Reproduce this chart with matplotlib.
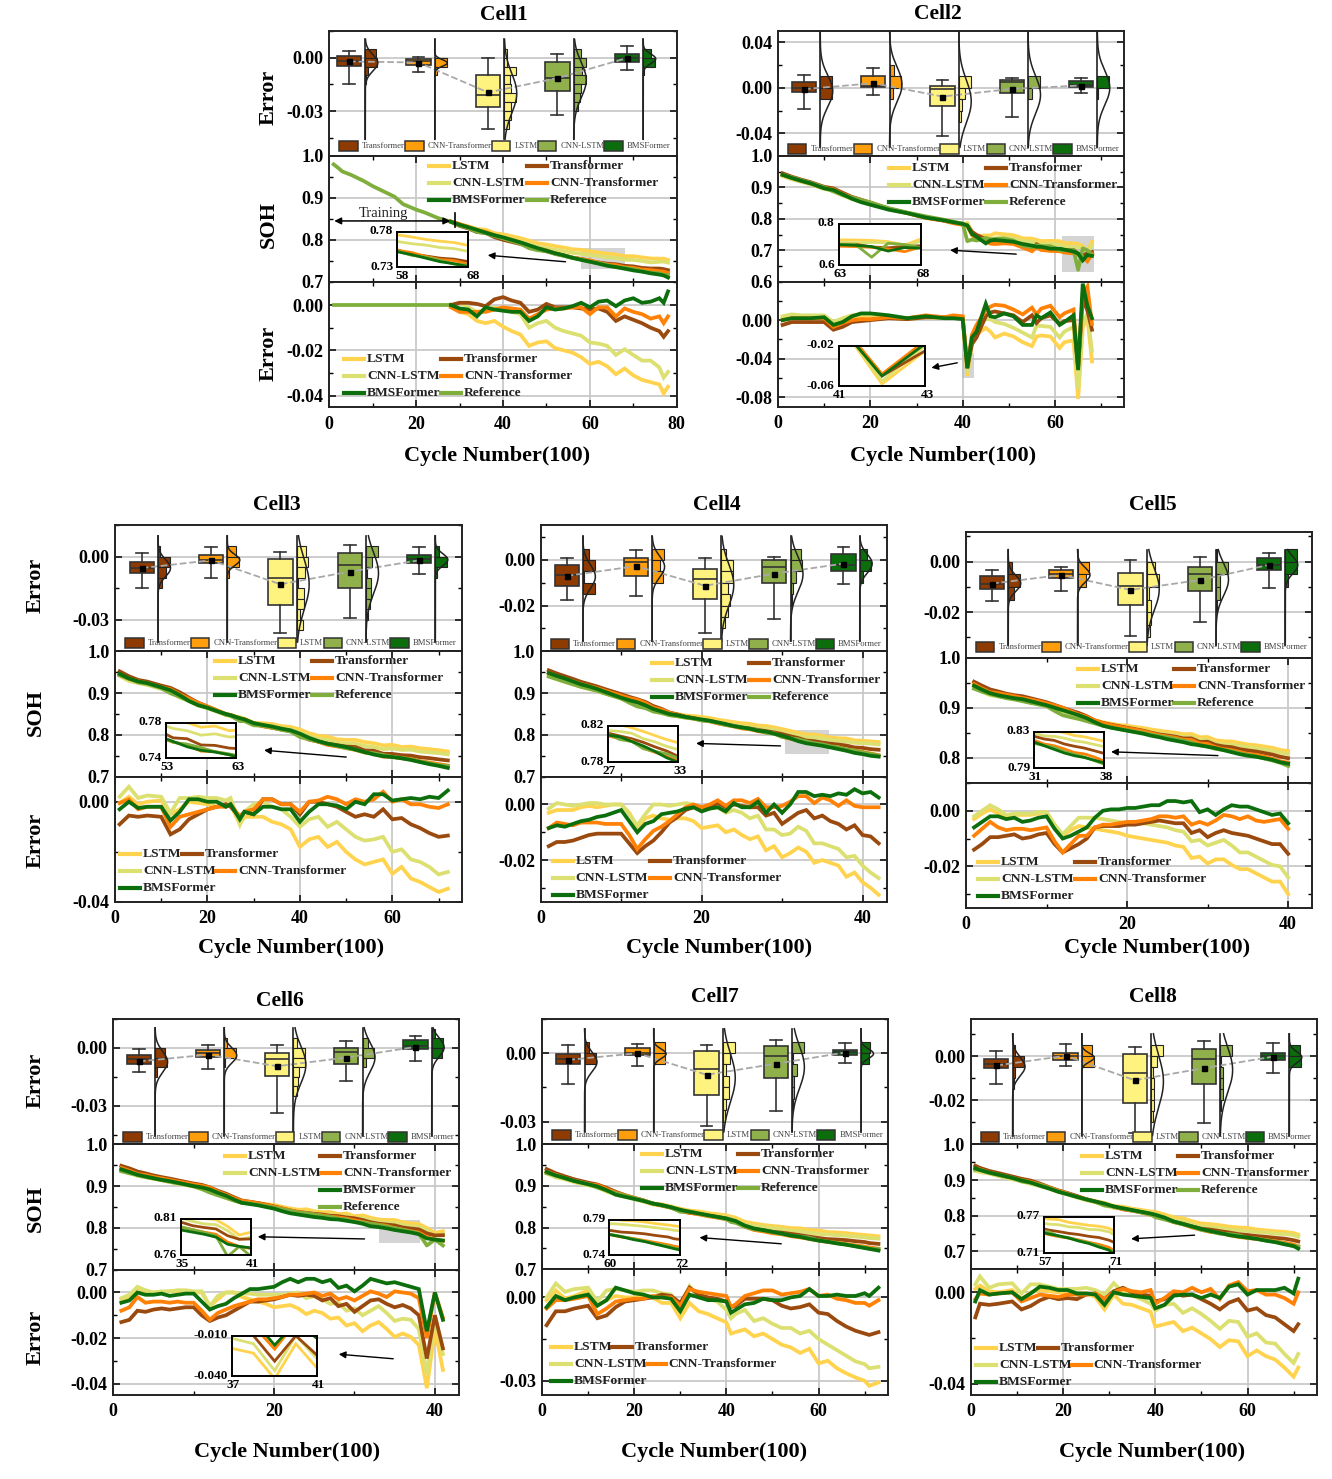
import numpy as np
import matplotlib
matplotlib.use('Agg')
import matplotlib.pyplot as plt
from matplotlib.lines import Line2D
from matplotlib.patches import Rectangle
from matplotlib.ticker import AutoMinorLocator, FormatStrFormatter

W, H = 1332, 1479
plt.rcParams['font.family'] = ['Liberation Serif', 'DejaVu Serif']
plt.rcParams['font.weight'] = 'bold'

# errors, box stats and histograms are in units of 0.001
BOX_LABELS = ['Transformer', 'CNN-Transformer', 'LSTM', 'CNN-LSTM', 'BMSFormer']
KEY_ROW = ['LSTM', 'Transformer', 'CNN-LSTM', 'CNN-Transformer', 'BMSFormer', 'Reference']

# Cell1
C1_X = [1, 2, 3, 5, 8, 10, 12, 15, 17, 20, 22, 25, 28, 30, 32, 34, 36, 38, 40, 42, 44, 46, 48, 50, 52, 54, 56, 58, 60,
        62, 64, 66, 68, 70, 72, 74, 76, 77, 78]
C1_SOH = [.98, .972, .963, .955, .94, .928, .918, .903, .885, .872, .865, .852,
          .843, .836, .83, .824, .817, .811, .806, .80, .794, .787, .78, .774, .768, .763, .757,
          .752, .748, .743, .738, .735, .731, .727, .724, .72, .717, .715, .71]
C1_LSTM = [0, -3, -4, -7, -8, -7, -9.5, -11.5, -13, -18, -16.5, -16, -19, -20, -21, -23, -26, -25, -27, -30.5, -28, -31, -33, -34, -35, -39, -36]
C1_CNNLSTM = [0, 1, -1, -3, -2, -1, -2, -3, -4, -10, -8, -7, -10, -11.5, -12.5, -13.5, -16.5, -17, -18, -22, -19.5, -22, -24.5, -24.5, -27.5, -32, -29.5]
C1_TRANS = [0, 1, 1, .5, -.5, 2.5, 3.5, 2, 1, -3, -2, .5, -1, -1, -1, -1.5, -2, -1.5, -3, -7, -5, -6.5, -8, -10, -11.5, -14, -11.5]
C1_CNNTRANS = [-1, -3, -3, -3, -3, -2, -1, -1.5, -2, -6, -4, -2, -1.5, -1.5, -1, -1, -4, -1, -1, -5, -1.5, -3, -4, -6, -5, -8, -5]
C1_BMS = [0, -1.5, -2, -5, -1, -2, -2.5, -3, -3, -7, -5, -1, -2, -1.5, -.5, 1, -1, 1.5, 2, -.5, 2, 3, 1, 1.5, 3, 1, 6]
C1_BOX = [[-14.7, -4.6, -1.8, 1, 3.9, -2.1], [-8.2, -4, -2, -.8, .2, -2.7], [-40, -28, -20.8, -9.8, 0, -19.5],
          [-32, -18.8, -11.6, -2.5, 2.2, -11.5], [-7, -2.4, 0, 2.1, 6.5, -.2]]
C1_HIST_TOP = [5, 0, 5, 5, 5]
C1_HIST = [[9, 10, 2, 1], [10, 1.5], [2, 2, 10, 5, 5.5, 10, 6, 6, 4], [6, 10, 7, 10, 6, 5, 4], [7, 10, 1]]

# Cell2
C2_X = [1, 3, 5, 7, 10, 12, 14, 16, 18, 20, 24, 28, 32, 36, 38, 40, 41, 42, 43, 45, 46, 47, 49, 51, 53,
        55, 56, 57, 59, 61, 62, 64, 65, 66, 67, 68]
C2_SOH = [.94, .93, .921, .913, .897, .892, .878, .864, .853, .845, .829, .818, .804, .795, .789, .784, .779, .752, .743, .722,
          .731, .733, .73, .727, .72, .715, .711, .711, .705, .705, .702, .696, .69, .668, .685, .682]
C2_LSTM = [2, 4, 3, 3, 3, -3, 0, 3, 4, 5, 3, 1, 3, 2, 3, 3, -58, -25, -15, -8, -12, -18, -14, -17, -23, -27, -17, -16, -17, -29, -23, -21, -82, -8, 3, -43]
C2_CNNLSTM = [4, 6, 5, 5, 5, -2, 2, 5, 6, 6, 3, 2, 4, 2, 3, 3, -55, -20, -8, 1, 1, -2, -4, -8, -13, -18, -6, -6, -7, -18, -12, -7, -72, -3, 7, -32]
C2_TRANS = [-5, -2, -2, -2, -2, -10, -7, -2, -1, 0, 2, 1, 3, 3, 3, 2, -50, -25, -18, 4, 8, 9, 7, 5, -2, 5, -3, 2, 5, -4, -1, 0, -50, 22, 10, -10]
C2_CNNTRANS = [0, 2, 2, 2, 2, -7, -3, 0, 1, 1, 3, 2, 5, 3, 5, 4, -48, -15, -5, 10, 14, 16, 15, 11, 6, 13, 6, 12, 15, 3, 7, 11, -48, 28, 35, -4]
C2_BMS = [0, 2, 2, 2, 3, -5, -2, 4, 7, 7, 5, 2, 4, 2, 2, 1, -50, -18, -12, 17, 4, 3, 7, 4, -5, -5, 5, 2, 8, -5, -2, 5, -52, 38, 15, 2]
C2_BOX = [[-19, -3.5, -.5, 4.7, 11, -1.2], [-6.5, 1, 1.5, 10, 17, 4], [-42, -16, -1.5, 2, 6.5, -7.7],
          [-26, -5, 5.5, 7, 8.5, -1], [-4.5, 1, 2.5, 6, 8.5, 2]]
C2_HIST_TOP = [10, 20, 10, 10, 10]
C2_HIST = [[10, 10], [4, 10, 3], [10, 5, 3, 2], [10, 3], [10, 1]]

# Cell3
C3_X = [1, 3, 5, 7, 10, 12, 14, 16, 18, 20, 22, 24, 25, 27, 28, 30, 32, 34, 36, 38, 40, 42, 44, 46, 48,
        50, 52, 54, 56, 58, 60, 62, 64, 66, 68, 70, 72]
C3_SOH = [.946, .935, .928, .924, .914, .907, .895, .881, .871, .865, .857, .85, .847, .84, .837, .828, .824, .82, .815, .811,
          .803, .793, .785, .779, .775, .771, .765, .759, .753, .749, .747, .744, .74, .735, .73, .726, .721]
C3_LSTM = [-.5, 2, -1, 0, .5, -5, -3, 0, -.5, -1, -2, -1, -1, -9, -6, -6, -6, -8, -9, -11, -18, -15, -14, -18, -16,
           -20, -23, -25, -24, -23, -28.7, -26, -30.6, -32, -34, -36, -34.7]
C3_CNNLSTM = [2, 6, 1.5, 2.5, 2, -4.5, 1.5, 1.5, 2, 1.5, 1.5, .5, 1.5, -9, -4, -1, 0, -2, -3, -6, -10, -7, -6, -10, -8,
              -11, -14, -15.5, -15, -14, -20, -19, -23, -24, -26, -29, -28]
C3_TRANS = [-9, -5.5, -6, -5.5, -6, -13, -11, -7, -5, -3, -2, -1, -2, -6, -4, -5, 1, 1, -1, -1, -5, 0, 0, -1, -2,
            -4, -6, -5, -6, -3, -7, -6.5, -9, -10.5, -12.5, -14, -13.5]
C3_CNNTRANS = [-.5, 1, -3, -2, -2, -10, -6, -5, -4, -3, -2, -2, -1, -6, -4, -3, 1, 1, -1, -1, -4, 0, .5, 2, 1,
               -1, 1, 0, 1, 4, 0, 1, -1, -1, -2, -2.5, -1]
C3_BMS = [-3, 0, -2.5, -2, -2, -7.5, -4, 1, 1, 0, 0, -2, -1, -7, -4, -5, -2, -2, -3, -3, -8, -4, -1, -1, -1.5,
          -3, 0, -1, 3, 3, .5, 1, 1.5, 1, 2, 1.5, 4.5]
C3_BOX = [[-14.7, -7.7, -5.3, -2.3, 2, -5.3], [-10, -3, -1.5, 1, 4.5, -1.6], [-36, -23, -10, -1, 2.5, -13],
          [-29, -14.7, -3.8, 1.8, 5.5, -7], [-8, -2.8, -1, 1, 4.5, -1.6]]
C3_HIST_TOP = [5, 5, 5, 5, 5]
C3_HIST = [[2, 10, 7, 3], [7, 10, 1], [8, 10, 7, 1, 6, 6, 3, 5], [10, 5, 1, 4, 4, 3, 2], [3, 10, 1]]

# Cell4
C4_X = list(range(1, 43))
C4_SOH = [.948, .941, .935, .928, .921, .916, .91, .903, .896, .889, .883, .878, .871, .862, .856, .85, .847, .843, .84, .837,
          .834, .83, .826, .821, .818, .815, .81, .808, .803, .798, .792, .785, .78, .777, .774, .77, .766, .762, .757, .754, .75, .748]
C4_LSTM = [-3, -2, -2, -2, -1, -.5, -1, -.5, 0, 0, -3, -8, -5, -4, -5, -5.5, -5, -5, -6, -8.5,
           -8, -7.5, -10, -9, -11, -12.5, -11.5, -16.5, -15, -19, -17.5, -15.5, -17, -21, -20, -21, -22, -26, -24.5, -28, -30, -32.5]
C4_CNNLSTM = [-1.5, .5, 0, -.5, 0, .5, .5, 0, 0, 0, -3.5, -7.5, -3.5, 0, 0, -.5, 0, .5, 0, -2,
              -1.5, -1, -3, -2, -3, -5, -4, -9, -9, -11, -10.5, -8, -9.5, -14, -14, -15, -16, -19, -18.5, -22, -24.5, -26.5]
C4_TRANS = [-15, -13.5, -13.5, -13, -12, -11, -10.5, -10.5, -10.5, -10.5, -14, -17.5, -15, -13, -10, -6.5, -4.5, -2, -1, -1,
            -1, .5, -1, 0, -.5, -1, -1, -4, -3, -7, -5, -3, -2, -5, -4, -6, -7, -9, -7.5, -11, -11.5, -14]
C4_CNNTRANS = [-8.5, -6.5, -7, -7.5, -6.5, -6.5, -6.5, -7, -7, -7, -11, -16, -12.5, -9.5, -8, -6, -3.5, -1, 0, -1,
               0, 1.5, -.5, 1.5, 1.5, .5, 2, -1, -1, -.5, 1, 3, 3, .5, 2.5, 1.5, -.5, 1.5, -.5, -1, -1, -1]
C4_BMS = [-8.5, -7.5, -8, -7, -6, -5.5, -4.5, -4, -3, -2, -6, -10, -7, -6, -3.5, -3, -2.5, -1.5, -1, -2.5,
          -1.5, -1, -2.5, .5, -1, -1, 1, -3, 0, -3, 0, 4.5, 4.5, 3, 3.5, 3, 4, 3.5, 5.5, 4, 4.5, 2.5]
C4_BOX = [[-17.7, -11.6, -6.5, -2, 1, -7], [-16, -7, -1, .7, 4.5, -2.7], [-32, -17.3, -8.5, -4, .7, -11.3],
          [-26, -10, -3, 0, 1.3, -6], [-10.5, -4.7, -2, 2.5, 5.5, -1.6]]
C4_HIST_TOP = [5, 5, 5, 5, 5]
C4_HIST = [[5, 10, .5, 10], [10, 7, 9], [4, 10, 10, 6, 7, 6, 3], [9, 10, 5, 2, 1], [6, 10, 3]]

# Cell5
C5_X = list(range(1, 41))
C5_SOH = [.944, .936, .929, .925, .922, .919, .917, .913, .909, .905, .9, .895, .89, .885, .879, .871, .864, .86, .857, .854,
          .851, .848, .844, .841, .837, .834, .831, .827, .825, .822, .819, .815, .811, .807, .804, .802, .799, .796, .791, .788]
C5_LSTM = [-3, -1, .5, -1, -2, -1.5, -1.5, -1.5, -1, -.5, -5, -9, -7, -5.5, -6, -6.5, -7, -7.5, -8, -9,
           -9.5, -10, -10.5, -11, -11.5, -12.5, -13, -17, -16.5, -19, -17.5, -17.5, -19.5, -21, -21, -22.5, -24, -25.5, -25.5, -30]
C5_CNNLSTM = [-2, 0, 2, .5, -1.5, -1, -1, -1, -.5, -.5, -5, -8.5, -5.5, -2.5, -2.5, -2.5, -3, -3.5, -4, -4.5,
              -4.5, -4.5, -5, -5.5, -6, -7, -7.5, -11, -10.5, -12.5, -11.5, -10.5, -12.5, -15, -15, -16.5, -18, -19.5, -20, -24]
C5_TRANS = [-14, -12, -9.5, -9.5, -9, -8.5, -10, -9.5, -8.5, -8, -12, -15, -13.5, -12, -10, -6, -5.5, -5.5, -5.5, -5,
            -5, -4.5, -4, -3.5, -4, -4.5, -4.5, -8, -7, -9.5, -8, -7, -8, -8.5, -9, -10, -11, -12, -12, -15.5]
C5_CNNTRANS = [-9, -6.5, -4, -6, -7, -6.5, -6.5, -7, -6.5, -6, -11, -15, -12, -9, -9, -6, -5, -5, -4.5, -4,
               -4, -3.5, -3, -2, -2, -2.5, -2, -5, -4, -5, -3.5, -1.5, -2, -3, -2, -3.5, -4, -3.5, -3, -6.5]
C5_BMS = [-6, -4, -2, -2, -3, -2.5, -4, -3.5, -2.5, -2, -6.5, -10, -9, -7.5, -6, -2.5, 0, .5, .5, 1,
          1, 1.5, 2, 2, 3.5, 3.5, 3, 3.5, -.5, .5, -1.5, .5, 2, 1.5, 1.5, .5, -.5, -1.5, -1, -4.5]
C5_BOX = [[-15.7, -10.7, -9, -5.5, -3.5, -8.7], [-11.7, -6.5, -5, -3.3, -2, -5.3], [-29.5, -17.3, -9.5, -4.5, .7, -11.2],
          [-24, -11.5, -5, -2.3, 1.8, -7.3], [-10.3, -3.4, -1.5, 1.4, 3.2, -1.3]]
C5_HIST_TOP = [0, 0, 0, 5, 5]
C5_HIST = [[3, 10, 5], [10, 7], [7, 10, 2, 4, 4, 3], [1, 10, 3, 3, 1], [10, 10, 2]]

# Cell6
C6_X = list(range(1, 42))
C6_SOH = [.94, .934, .927, .923, .919, .915, .912, .908, .904, .9, .897, .892, .884, .877, .868, .86, .857, .854, .85, .846,
          .84, .835, .832, .829, .826, .824, .821, .82, .817, .814, .81, .804, .802, .799, .795, .792, .789, .785, .775, .772, .77]
C6_LSTM = [-3, -2, 2, .5, 0, 0, .5, .5, .5, 0, 0, -6, -3, 0, 0, -2, -3, -4, -5, -6.5,
           -6, -5.5, -7, -9.5, -8, -9, -11.5, -11, -14.5, -13.5, -17, -14.5, -13, -16, -19.5, -18, -19.5, -23, -42, -16, -34]
C6_CNNLSTM = [-2.5, -1, 2.5, 1, 0, .5, .5, 1, 1, .5, .5, -6, -1.5, 0, 0, -.5, -.5, -1, -1, -1,
              -1, -.5, 0, -2.5, -1.5, -3, -5, -4.5, -8, -7, -10, -8, -6, -9, -12.5, -11.5, -12, -16, -36, -10, -27]
C6_TRANS = [-13, -12, -8, -8.5, -7.5, -7, -7.5, -7, -6.5, -6.5, -10, -12.5, -11, -10, -8, -6, -4, -4, -3.5, -3,
            -2, -1, -1.5, -1, -1.5, -3.5, -2.5, -6, -5, -8.5, -6, -3.5, -3, -5, -6.5, -5.5, -7, -10, -29, -10, -24.5]
C6_CNNTRANS = [-8, -6.5, -2, -4.5, -4, -4, -4.5, -4, -4.5, -4.5, -8, -12, -9, -7.5, -6, -5, -4, -3, -3, -2.5,
               -2, -1, -1, -.5, 0, -1.5, -.5, -3, -2, -3.5, -1.5, .5, -.5, -2, .5, 0, -.5, -2.5, -20, 0, -11]
C6_BMS = [-4.5, -3.5, 0, -1, -1, -.5, -1.5, -1, -.5, -.5, -4, -7.5, -6, -5, -2.5, -.5, 1.5, 1.5, 2, 2.5,
          4.5, 6, 4.5, 6, 6, 4.5, 5.5, 2, 3, .5, 3, 6, 5, 4, 4.5, 3.5, 2.5, 1.5, -17, 0, -12]
C6_BOX = [[-12.7, -8.5, -6, -3.8, -.5, -7], [-11, -4.5, -2.5, -1, 1.5, -3.5], [-33.7, -14.5, -5.5, -2.7, 1.3, -9.5],
          [-17, -8.3, -2, -.2, 3.5, -5], [-7, -.8, 1, 4, 6, .5]]
C6_HIST_TOP = [0, 5, 5, 5, 10]
C6_HIST = [[8, 10, 2], [2, 10, 1], [3, 10, 10, 5, 4, 3], [5, 10, 3], [3, 10, 9]]

# Cell7
C7_X = [1, 3, 5, 7, 10, 12, 14, 16, 18, 20, 22, 24, 26, 28, 30, 32, 34, 36, 38, 40, 41, 42, 44, 46, 48,
        50, 52, 54, 56, 58, 60, 62, 64, 66, 68, 70, 71, 73]
C7_SOH = [.934, .925, .919, .912, .904, .899, .89, .879, .874, .869, .864, .858, .854, .849, .843, .838, .834, .83, .826, .822,
          .819, .816, .805, .798, .794, .79, .786, .781, .778, .773, .769, .766, .762, .759, .755, .751, .749, .745]
C7_LSTM = [-1, 2.5, -.5, .5, 2.5, -3, -1, .5, 0, 0, .5, 0, -2, -2, -7.5, -2, -5, -6, -7.5, -9,
           -13, -12.5, -11.5, -14, -13, -15, -17, -18, -20, -18.5, -23.7, -22.8, -25.5, -27.3, -28.8, -30, -31.8, -30.6]
C7_CNNLSTM = [0, 5, 2, 3, 3.5, -1.5, 2.5, 3, 2.5, 2, 2.5, 2.5, 1.5, 1, -3, 4, 0, -.5, -1.5, -4.5,
              -7.5, -6, -4.5, -8.5, -7.5, -9.5, -11, -11, -13, -12, -15, -17, -19, -21, -23, -24, -25.5, -25]
C7_TRANS = [-10, -5, -5, -4, -3, -7.5, -6.5, -3.5, -1.5, -1, -.5, 0, 1, .5, -2, 3.5, 1, 0, -.5, -1.5,
            -3.5, -3, -.5, -.5, -.5, -1, -3, -4, -3.5, -2.5, -5.5, -6, -8.5, -10.5, -12, -13, -13.5, -12.5]
C7_CNNTRANS = [-4, -1, -1, -.5, .5, -6, -4, -1.5, -1, -.5, -.5, .5, 0, 0, -3, 3, 2, 1.5, 1, .5,
               -3.5, -2.5, .5, 1.5, 2.5, 2.5, 1, 1.5, 2, 3, .5, 1, -.5, -1, -2, -2, -3, -1]
C7_BMS = [-3.5, .5, -1, 0, 1, -3, -1, 3.5, 2.5, 1.5, 1, 0, 0, -.5, -5, 1, 0, -1, -1, -1.5,
          -5.5, -4.5, -2.5, -2, -.5, -1, -1, 0, .5, 3, .5, .5, 1, .5, .5, 1.5, .5, 3.5]
C7_BOX = [[-13.5, -5, -2.8, -.3, 3.5, -3], [-5.7, -1, 0, 2, 4, -.1], [-32, -18.5, -7.2, .8, 3.6, -9.5],
          [-25.5, -11, -1.3, 3.2, 5.8, -4.7], [-4.5, -1, .3, 1.5, 4.2, .2]]
C7_HIST_TOP = [5, 5, 5, 5, 5]
C7_HIST = [[4, 10], [10, 10], [10, 6, 3, 5, 5, 3, 2], [10, 1, 4, 2, 2, 1], [8, 7]]

# Cell8
C8_X = [1, 2, 4, 6, 9, 11, 13, 15, 17, 19, 21, 23, 25, 27, 29, 31, 33, 35, 37, 39, 40, 42, 44, 46, 48,
        50, 52, 54, 56, 58, 60, 62, 64, 66, 68, 70, 71]
C8_SOH = [.933, .928, .921, .915, .906, .899, .893, .884, .876, .867, .86, .853, .846, .84, .834, .826, .821, .816, .811, .806,
          .803, .795, .784, .777, .77, .763, .757, .752, .746, .742, .739, .735, .73, .726, .72, .715, .708]
C8_LSTM = [1.5, 3, .5, 0, 1, -3, 0, 1, .5, 0, 0, -.5, -.5, -2, -7.5, -1, -5, -5.5, -7, -8.5,
           -15, -14, -13, -17, -15.5, -18, -20.5, -24, -21, -21.5, -28, -25.5, -28, -29.5, -33, -37, -33]
C8_CNNLSTM = [3.5, 7, 2, 3.5, 4, -.5, 3.5, 3.5, 2.5, 1.5, 1.5, 1.5, 2, 1, -1, 4, 0, -1.5, -3, -5,
              -8, -5.5, -5, -9, -7, -9.5, -12.5, -16, -12.5, -13, -19.5, -18, -22, -22.5, -27, -31, -27]
C8_TRANS = [-11, -5, -5.5, -5, -4, -7.5, -6, -3.5, -2, -3, -2.5, -3, -1, -.5, -3, .5, 2, 0, -1, -1.5,
            -4, -3, -.5, -1.5, -1, -3, -5, -7.5, -4.5, -3, -8, -7, -10, -11, -14, -17, -14]
C8_CNNTRANS = [-3, -.5, -1, -.5, 0, -4, -2.5, -1, -1.5, -2, -1, -1, -1, -.5, -3, 0, 1.5, .5, 0, 1,
               -5, -2.5, .5, 0, 2, 0, 1.5, -3, 3, 4.5, .5, 1, -1, -1, -2.5, -5, 0]
C8_BMS = [-4, 1, -1, -.5, 0, -3, -.5, 2.5, 2, 1, 1, -.5, -.5, -1, -5.5, 0, -1, -1.5, -2, -2.5,
          -7, -5.5, -1.5, -1, -1, -2.5, -1, -2.5, 2.5, 3.5, -1, 1, 1, 1, 2, -.5, 6]
C8_BOX = [[-12.7, -5.6, -3.5, -1.5, 2.3, -4.3], [-4.7, -1.8, 0, 1.5, 5.5, .1], [-35, -21.3, -7.5, .7, 4, -11],
          [-30.3, -12.8, -1.2, 3.2, 7, -5.5], [-7.5, -1.8, -.2, 1.4, 6, -.3]]
C8_HIST_TOP = [5, 5, 5, 5, 5]
C8_HIST = [[2, 10, 2, 1], [9, 10], [10, 5, 2, 3, 3, 3, 2], [10, 1, 2, 2, 2, 1], [9, 10]]

# styles
BOX_COLORS = ['#8E3B02', '#FF9E0D', '#FFF37F', '#8FB04A', '#0B6D0B']
LINE_COLORS = {'LSTM': '#FFD34E', 'CNN-LSTM': '#DCE071', 'Transformer': '#9A4A0E', 'CNN-Transformer': '#FF8106',
               'BMSFormer': '#0C6E0C', 'Reference': '#7FAE3C'}
GRID = '#c9c9c9'


def px(x, y):
    return x / W, 1 - y / H


def make_axes(x0, y0, x1, y1, z=1):
    a, b = px(x0, y1)
    return plt.gcf().add_axes([a, b, (x1 - x0) / W, (y1 - y0) / H], zorder=z)


def style_axes(ax, ylim, yticks, fmt):
    ax.set_ylim(*ylim)
    ax.set_yticks(yticks)
    ax.yaxis.set_major_formatter(FormatStrFormatter(fmt))
    ax.yaxis.set_minor_locator(AutoMinorLocator(2))
    ax.tick_params(which='major', direction='in', length=5, width=1.1, top=True, right=True, labelsize=13, pad=4)
    ax.tick_params(which='minor', direction='in', length=3, width=1, top=True, right=True)
    ax.grid(axis='y', which='major', color=GRID, lw=1.3)
    ax.set_axisbelow(True)
    for s in ax.spines.values():
        s.set_linewidth(1.4)
        s.set_color('#222222')


def draw_box_panel(ax, cell, series):
    lay = cell['layout']
    style_axes(ax, lay['box_ylim'], lay['box_ticks'], '%.2f')
    ax.set_xlim(0, 5)
    ax.set_xticks([])
    pos = [lay['box_x0'] + i for i in range(5)]
    stats = [dict(whislo=b[0] / 1000, q1=b[1] / 1000, med=b[2] / 1000, q3=b[3] / 1000, whishi=b[4] / 1000,
                  mean=b[5] / 1000, fliers=[]) for b in cell['box']]
    ax.plot(pos, [s['mean'] for s in stats], '--', color='#a8a8a8', lw=1.3, zorder=3.5)
    art = ax.bxp(stats, positions=pos, widths=.35, patch_artist=True, showmeans=True, showfliers=False, manage_ticks=False,
                 capwidths=.17, boxprops=dict(edgecolor='#333333', lw=1.2), medianprops=dict(color='#333333', lw=1.2),
                 whiskerprops=dict(color='#333333', lw=1.2), capprops=dict(color='#333333', lw=1.2),
                 meanprops=dict(marker='s', markerfacecolor='k', markeredgecolor='k', markersize=3.6), zorder=3)
    for patch, c in zip(art['boxes'], BOX_COLORS):
        patch.set_facecolor(c)
    for m in art['means']:
        m.set_zorder(7)
    lo, hi = lay['line_span']
    ymin, ymax = lay['box_ylim']
    y = np.linspace(ymin + lo * (ymax - ymin), ymin + hi * (ymax - ymin), 200)
    bin_w = cell['bin'] / 1000
    for i, (p, name) in enumerate(zip(pos, BOX_LABELS)):
        base = p + .235
        # bars of the histogram, counts are scaled so that 10 is the widest bar
        top = cell['hist_top'][i] / 1000
        centers = [top - bin_w * (k + .5) for k in range(len(cell['hist'][i]))]
        ax.barh(centers, [v * .017 for v in cell['hist'][i]], height=bin_w, left=base, color=BOX_COLORS[i],
                edgecolor='#222222', lw=.8, zorder=3)
        ax.plot([base, base], [y[0], y[-1]], color='#222222', lw=1.2, zorder=4)
        # normal fit of the error series of that model
        e = np.array(series[name]) / 1000
        ax.plot(base + .18 * np.exp(-.5 * ((y - e.mean()) / e.std()) ** 2), y, color='#222222', lw=1.1, zorder=4)


def draw_box_key(fig, left, bottom_y):
    offsets = [10, 76, 162.5, 208.5, 275]
    for off, name, c in zip(offsets, BOX_LABELS, BOX_COLORS):
        x, y = px(left + off, bottom_y + 5)
        fig.add_artist(Rectangle((x, y), 18.5 / W, 10 / H, transform=fig.transFigure, facecolor=c, edgecolor='#333333',
                                 lw=1.1, zorder=20))
        tx, ty = px(left + off + 22.5, bottom_y)
        fig.text(tx, ty, name, fontsize=6.2, color='#444444', weight='normal', va='center', ha='left', zorder=20)


def draw_line_key(fig, entries):
    for name, x, y in entries:
        a, b = px(x, y)
        a2, _ = px(x + 20, y)
        fig.add_artist(Line2D([a, a2], [b, b], color=LINE_COLORS[name], lw=3, transform=fig.transFigure, zorder=20))
        tx, ty = px(x + 23, y)
        fig.text(tx, ty, name, fontsize=9.7, color='#222222', va='center', ha='left', zorder=20)


def draw_curves(ax, x_all, ys, ref, with_ref=True, lw=2.7):
    start = len(x_all) - len(ys['LSTM'])
    x = x_all[start:]
    for name in ['LSTM', 'CNN-LSTM', 'Transformer', 'CNN-Transformer']:
        ax.plot(x, ys[name], color=LINE_COLORS[name], lw=lw, solid_joinstyle='miter')
    if with_ref:
        ax.plot(x_all, ref, color=LINE_COLORS['Reference'], lw=lw)
    ax.plot(x, ys['BMSFormer'], color=LINE_COLORS['BMSFormer'], lw=lw, solid_joinstyle='miter')


def draw_inset(fig, ax, ins, x_all, ys, ref, with_ref):
    x0, y0, x1, y1 = ins['box']
    a = make_axes(x0, y0, x1, y1, z=8)
    draw_curves(a, x_all, ys, ref, with_ref, lw=2)
    a.set_xlim(*ins['xlim'])
    a.set_ylim(*ins['ylim'])
    a.set_xticks([])
    a.set_yticks([])
    for s in a.spines.values():
        s.set_linewidth(1.4)
    for txt, tx, ty, ha in [(ins['ylab'][0], x0 - 4, y0 - 1, 'right'), (ins['ylab'][1], x0 - 4, y1 + 0, 'right'),
                            (ins['xlab'][0], x0 + ins.get('dx', 1), y1 + 9, 'center'),
                            (ins['xlab'][1], x1 + ins.get('dx', 2), y1 + 9, 'center')]:
        u, v = px(tx, ty)
        fig.text(u, v, txt, fontsize=9.5, ha=ha, va='center', zorder=22)
    if 'zone' in ins:
        z = ins['zone']
        ax.add_patch(Rectangle((z[0], z[2]), z[1] - z[0], z[3] - z[2], color='#bdbdbd', alpha=.65, lw=0, zorder=1.5))
    ax.annotate('', xy=px(*ins['arrow'][1]), xytext=px(*ins['arrow'][0]), xycoords='figure fraction',
                textcoords='figure fraction', arrowprops=dict(arrowstyle='-|>', color='k', lw=1), zorder=9)


def draw_cell(fig, cell):
    lay = cell['layout']
    left, right = lay['x']
    ytop, y1, y2, ybot = lay['y']
    x_all = np.array(cell['x'], dtype=float)
    bms_soh = np.array(cell['soh'])
    err = {k: np.array(v) / 1000 for k, v in cell['err'].items()}
    start = len(x_all) - len(cell['err']['LSTM'])
    # in the picture every error is reference minus prediction, BMSFormer SOH was read directly
    ref = bms_soh.copy()
    ref[start:] = bms_soh[start:] + err['BMSFormer']
    soh = {k: ref[start:] - v for k, v in err.items()}

    ax_box = make_axes(left, ytop, right, y1)
    ax_soh = make_axes(left, y1, right, y2)
    ax_err = make_axes(left, y2, right, ybot)

    draw_box_panel(ax_box, cell, cell['err'])
    draw_box_key(fig, left, y1 - lay['key_dy'])

    style_axes(ax_soh, lay['soh_ylim'], lay['soh_ticks'], '%.1f')
    draw_curves(ax_soh, x_all, soh, ref)
    style_axes(ax_err, lay['err_ylim'], lay['err_ticks'], '%.2f')
    if start > 0:
        ax_err.plot(x_all[:start + 1], np.zeros(start + 1), color=LINE_COLORS['Reference'], lw=2.7, zorder=2)
    draw_curves(ax_err, x_all, err, ref, with_ref=False)

    for a in (ax_soh, ax_err):
        a.set_xlim(0, lay['xmax'])
        a.set_xticks(lay['xticks'])
        a.xaxis.set_minor_locator(AutoMinorLocator(2))
        a.grid(axis='x', which='major', color=GRID, lw=1.3)
    ax_soh.tick_params(labelbottom=False)
    ax_err.tick_params(axis='x', pad=6)

    for ins in lay.get('soh_insets', []):
        draw_inset(fig, ax_soh, ins, x_all, soh, ref, True)
    for ins in lay.get('err_insets', []):
        draw_inset(fig, ax_err, ins, x_all, err, ref, False)

    draw_line_key(fig, lay['soh_key'])
    draw_line_key(fig, lay.get('err_key', []))

    u, v = px(lay['title'][0], lay['title'][1] + 2)
    fig.text(u, v, cell['name'], fontsize=15.5, ha='center', va='center')
    u, v = px(lay['xlabel'][0], lay['xlabel'][1] + 2)
    fig.text(u, v, 'Cycle Number(100)', fontsize=16, ha='center', va='center')
    if 'ylabels' in lay:
        xl, ys = lay['ylabels']
        for txt, yy in zip(['Error', 'SOH', 'Error'], ys):
            u, v = px(xl, yy)
            fig.text(u, v, txt, fontsize=16, rotation=90, ha='center', va='center')


def key2(x1, x2, y, names=KEY_ROW, dy=17):
    out = []
    for i, n in enumerate(names):
        out.append((n, x1 if i % 2 == 0 else x2, y + dy * (i // 2)))
    return out


def errs(lstm, cnnlstm, trans, cnntrans, bms):
    return {'LSTM': lstm, 'CNN-LSTM': cnnlstm, 'Transformer': trans, 'CNN-Transformer': cnntrans, 'BMSFormer': bms}


LAYOUT1 = dict(x=(329.3, 676.7), y=(30.7, 156, 281.7, 407.3), xmax=80, xticks=[0, 20, 40, 60, 80], box_x0=.283,
               box_ylim=(-.0553, .0152), box_ticks=[0, -.03], soh_ylim=(.7, 1), soh_ticks=[.7, .8, .9, 1],
               err_ylim=(-.0451, .0103), err_ticks=[0, -.02, -.04], line_span=(.133, .93), key_dy=10.3,
               title=(504, 13), xlabel=(497, 454), ylabels=(269, (97, 225, 353)),
               soh_key=key2(429, 527, 166),
               err_key=key2(344, 441, 359),
               soh_insets=[dict(box=(397.3, 232, 468.3, 267.3), xlim=(58, 68), ylim=(.73, .78), ylab=('0.78', '0.73'),
                                xlab=('58', '68'), dx=5, arrow=((568.3, 262), (485, 255)), zone=(58, 68, .73, .78))])
LAYOUT2 = dict(x=(778, 1124.3), y=(30.7, 156, 281.7, 407), xmax=75, xticks=[0, 20, 40, 60], box_x0=.375,
               box_ylim=(-.06, .0502), box_ticks=[.04, 0, -.04], soh_ylim=(.6, 1), soh_ticks=[.6, .7, .8, .9, 1],
               err_ylim=(-.0904, .04), err_ticks=[0, -.04, -.08], line_span=(.07, 1), key_dy=7,
               title=(938, 12), xlabel=(943, 454),
               soh_key=key2(889, 986, 168),
               soh_insets=[dict(box=(838.7, 224, 921, 265), xlim=(63, 68), ylim=(.6, .8), ylab=('0.8', '0.6'),
                                xlab=('63', '68'), arrow=((1019, 254.3), (947.3, 250)), zone=(61.5, 68.5, .63, .745))],
               err_insets=[dict(box=(838.7, 345.7, 925.3, 386), xlim=(40, 42), ylim=(-.06, -.02), ylab=('-0.02', '-0.06'),
                                xlab=('41', '43'), arrow=((960, 362.3), (928.7, 368.3)), zone=(39.8, 42.5, -.0606, -.0346))])
LAYOUT3 = dict(x=(115, 461.7), y=(525, 651.3, 776.7, 902), xmax=75, xticks=[0, 20, 40, 60], box_x0=.385,
               box_ylim=(-.0449, .0152), box_ticks=[0, -.03], soh_ylim=(.7, 1), soh_ticks=[.7, .8, .9, 1],
               err_ylim=(-.04, .01), err_ticks=[0, -.04], line_span=(.075, .915), key_dy=8,
               title=(277, 503), xlabel=(291, 946), ylabels=(36, (585, 712, 840)),
               soh_key=key2(215, 312, 661),
               err_key=[('LSTM', 120, 854), ('Transformer', 182, 854), ('CNN-LSTM', 120, 871),
                        ('CNN-Transformer', 215, 871), ('BMSFormer', 120, 888)],
               soh_insets=[dict(box=(166, 722.7, 236, 758.3), xlim=(53, 63), ylim=(.74, .78), ylab=('0.78', '0.74'),
                                xlab=('53', '63'), arrow=((349, 757.3), (261.3, 750)))])
LAYOUT4 = dict(x=(540.7, 886.7), y=(525, 651.3, 776.7, 902), xmax=43, xticks=[0, 20, 40], box_x0=.375,
               box_ylim=(-.04, .0153), box_ticks=[0, -.02], soh_ylim=(.7, 1), soh_ticks=[.7, .8, .9, 1],
               err_ylim=(-.0351, .01), err_ticks=[0, -.02], line_span=(.08, .91), key_dy=7.3,
               title=(717, 503), xlabel=(719, 946),
               soh_key=key2(652, 749, 663),
               err_key=[('LSTM', 552.7, 860.7), ('Transformer', 650, 860.7), ('CNN-LSTM', 552.7, 877.7),
                        ('CNN-Transformer', 650, 877.7), ('BMSFormer', 552.7, 895)],
               soh_insets=[dict(box=(608.3, 726, 678.3, 762.3), xlim=(27, 33), ylim=(.78, .82), ylab=('0.82', '0.78'),
                                xlab=('27', '33'), arrow=((783.3, 746), (693.3, 743.3)), zone=(30.3, 35.8, .755, .811))])
LAYOUT5 = dict(x=(966, 1312.3), y=(532, 657.7, 782.7, 908), xmax=43, xticks=[0, 20, 40], box_x0=.375,
               box_ylim=(-.038, .0117), box_ticks=[0, -.02], soh_ylim=(.75, 1), soh_ticks=[.8, .9, 1],
               err_ylim=(-.035, .0101), err_ticks=[0, -.02], line_span=(.1, .86), key_dy=11,
               title=(1153, 503), xlabel=(1157, 946),
               soh_key=key2(1078, 1174, 669),
               err_key=[('LSTM', 978, 861.7), ('Transformer', 1075, 861.7), ('CNN-LSTM', 978, 879),
                        ('CNN-Transformer', 1075, 879), ('BMSFormer', 978, 895.7)],
               soh_insets=[dict(box=(1034.3, 732.3, 1104.3, 768.3), xlim=(31, 38), ylim=(.79, .83), ylab=('0.83', '0.79'),
                                xlab=('31', '38'), arrow=((1220.7, 755.7), (1108.3, 751.7)))])
LAYOUT6 = dict(x=(113.3, 459), y=(1019, 1144.3, 1269.7, 1395), xmax=43, xticks=[0, 20, 40], box_x0=.37,
               box_ylim=(-.05, .015), box_ticks=[0, -.03], soh_ylim=(.7, 1), soh_ticks=[.7, .8, .9, 1],
               err_ylim=(-.045, .01), err_ticks=[0, -.02, -.04], line_span=(.07, .93), key_dy=7.3,
               title=(280, 999), xlabel=(287, 1450), ylabels=(36, (1080, 1209, 1337)),
               soh_key=[('LSTM', 225, 1156), ('Transformer', 320, 1156), ('CNN-LSTM', 225, 1173),
                        ('CNN-Transformer', 320, 1173), ('BMSFormer', 320, 1190), ('Reference', 320, 1207)],
               soh_insets=[dict(box=(181, 1219.3, 251, 1255), xlim=(35, 41), ylim=(.76, .81), ylab=('0.81', '0.76'),
                                xlab=('35', '41'), arrow=((367.3, 1239), (255, 1236.7)), zone=(33.1, 38.2, .765, .82))],
               err_insets=[dict(box=(232.3, 1335.7, 317, 1376), xlim=(37, 41), ylim=(-.04, -.01), ylab=('-0.010', '-0.040'),
                                xlab=('37', '41'), arrow=((396, 1359), (336, 1354)))])
LAYOUT7 = dict(x=(542, 887.7), y=(1018.7, 1144.3, 1269.3, 1394.7), xmax=75, xticks=[0, 20, 40, 60], box_x0=.38,
               box_ylim=(-.0399, .015), box_ticks=[0, -.03], soh_ylim=(.7, 1), soh_ticks=[.7, .8, .9, 1],
               err_ylim=(-.035, .0101), err_ticks=[0, -.03], line_span=(.1, .92), key_dy=9,
               title=(715, 995), xlabel=(714, 1450),
               soh_key=key2(642, 738, 1154),
               err_key=[('LSTM', 551, 1346.7), ('Transformer', 612, 1346.7), ('CNN-LSTM', 551, 1363.7),
                        ('CNN-Transformer', 645.7, 1363.7), ('BMSFormer', 551, 1380.7)],
               soh_insets=[dict(box=(609.3, 1219.7, 680, 1255), xlim=(60, 72), ylim=(.74, .79), ylab=('0.79', '0.74'),
                                xlab=('60', '72'), arrow=((784, 1244), (696.7, 1237.3)))])
LAYOUT8 = dict(x=(970.7, 1316.7), y=(1018.7, 1144.3, 1269.3, 1394.7), xmax=75, xticks=[0, 20, 40, 60], box_x0=.37,
               box_ylim=(-.04, .0169), box_ticks=[0, -.02], soh_ylim=(.65, 1), soh_ticks=[.7, .8, .9, 1],
               err_ylim=(-.0449, .0101), err_ticks=[0, -.04], line_span=(.07, .88), key_dy=7.6,
               title=(1153, 995), xlabel=(1152, 1450),
               soh_key=key2(1082, 1178, 1156),
               err_key=[('LSTM', 976, 1348.3), ('Transformer', 1038, 1348.3), ('CNN-LSTM', 976, 1365.3),
                        ('CNN-Transformer', 1070.7, 1365.3), ('BMSFormer', 976, 1382.3)],
               soh_insets=[dict(box=(1043.7, 1217.3, 1114, 1253), xlim=(57, 71), ylim=(.71, .77), ylab=('0.77', '0.71'),
                                xlab=('57', '71'), arrow=((1197.3, 1235), (1128.3, 1239)))])

CELLS = [
    dict(name='Cell1', x=C1_X, soh=C1_SOH, err=errs(C1_LSTM, C1_CNNLSTM, C1_TRANS, C1_CNNTRANS, C1_BMS), box=C1_BOX,
         hist_top=C1_HIST_TOP, hist=C1_HIST, bin=5, layout=LAYOUT1),
    dict(name='Cell2', x=C2_X, soh=C2_SOH, err=errs(C2_LSTM, C2_CNNLSTM, C2_TRANS, C2_CNNTRANS, C2_BMS), box=C2_BOX,
         hist_top=C2_HIST_TOP, hist=C2_HIST, bin=10, layout=LAYOUT2),
    dict(name='Cell3', x=C3_X, soh=C3_SOH, err=errs(C3_LSTM, C3_CNNLSTM, C3_TRANS, C3_CNNTRANS, C3_BMS), box=C3_BOX,
         hist_top=C3_HIST_TOP, hist=C3_HIST, bin=5, layout=LAYOUT3),
    dict(name='Cell4', x=C4_X, soh=C4_SOH, err=errs(C4_LSTM, C4_CNNLSTM, C4_TRANS, C4_CNNTRANS, C4_BMS), box=C4_BOX,
         hist_top=C4_HIST_TOP, hist=C4_HIST, bin=5, layout=LAYOUT4),
    dict(name='Cell5', x=C5_X, soh=C5_SOH, err=errs(C5_LSTM, C5_CNNLSTM, C5_TRANS, C5_CNNTRANS, C5_BMS), box=C5_BOX,
         hist_top=C5_HIST_TOP, hist=C5_HIST, bin=5, layout=LAYOUT5),
    dict(name='Cell6', x=C6_X, soh=C6_SOH, err=errs(C6_LSTM, C6_CNNLSTM, C6_TRANS, C6_CNNTRANS, C6_BMS), box=C6_BOX,
         hist_top=C6_HIST_TOP, hist=C6_HIST, bin=5, layout=LAYOUT6),
    dict(name='Cell7', x=C7_X, soh=C7_SOH, err=errs(C7_LSTM, C7_CNNLSTM, C7_TRANS, C7_CNNTRANS, C7_BMS), box=C7_BOX,
         hist_top=C7_HIST_TOP, hist=C7_HIST, bin=5, layout=LAYOUT7),
    dict(name='Cell8', x=C8_X, soh=C8_SOH, err=errs(C8_LSTM, C8_CNNLSTM, C8_TRANS, C8_CNNTRANS, C8_BMS), box=C8_BOX,
         hist_top=C8_HIST_TOP, hist=C8_HIST, bin=5, layout=LAYOUT8),
]

if __name__ == '__main__':
    fig = plt.figure(figsize=(W / 100, H / 100), dpi=100)
    for cell in CELLS:
        draw_cell(fig, cell)

    # Cell1 training span
    ax1 = fig.axes[1]
    ax1.annotate('', xy=(0.5, .845), xytext=(28.5, .845), arrowprops=dict(arrowstyle='<|-|>', color='k', lw=1.1))
    ax1.plot([29, 29], [.83, .865], color='k', lw=1.2)
    u, v = px(383.3, 213.3)
    fig.text(u, v, 'Training', fontsize=10.5, ha='center', va='center', weight='normal', color='#222222')

    fig.savefig('out.png', dpi=100)
